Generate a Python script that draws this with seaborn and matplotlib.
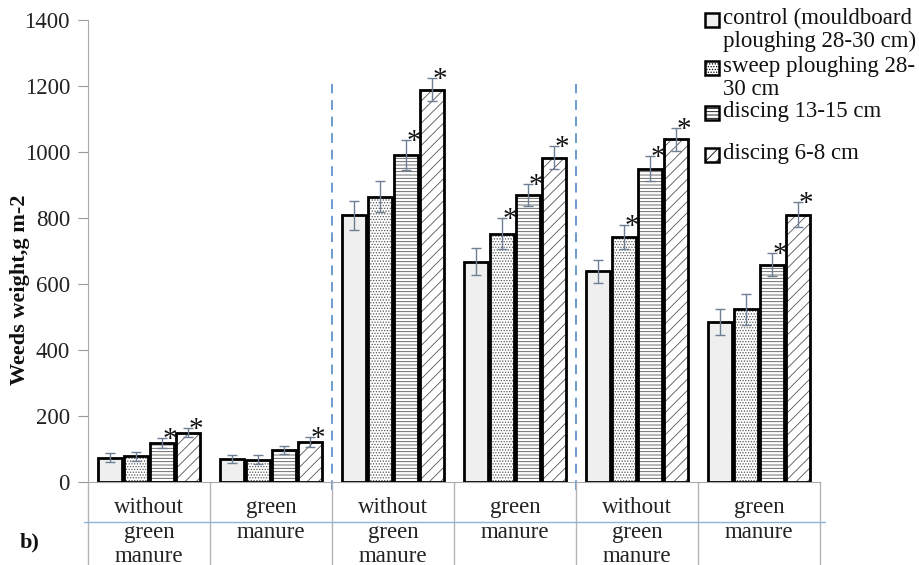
import numpy as np
import pandas as pd
import matplotlib
matplotlib.use("Agg")
import matplotlib.pyplot as plt
from matplotlib.patches import Rectangle
import seaborn as sns

# data
groups = ["G1", "G2", "G3", "G4", "G5", "G6"]
group_labels = ["without\ngreen\nmanure", "green\nmanure"] * 3
treatments = ["control (mouldboard\nploughing 28-30 cm)", "sweep ploughing 28-\n30 cm",
              "discing 13-15 cm", "discing 6-8 cm"]
control = [74, 70, 808, 667, 639, 485]
sweep = [78, 68, 865, 753, 742, 523]
disc13 = [118, 98, 990, 869, 950, 659]
disc6 = [150, 121, 1189, 982, 1038, 810]
err_control = [14, 13, 45, 41, 35, 40]
err_sweep = [14, 13, 46, 46, 36, 48]
err_disc13 = [14, 12, 45, 33, 37, 35]
err_disc6 = [15, 14, 34, 35, 35, 38]
# significance stars (1 = star)
star_control = [0, 0, 0, 0, 0, 0]
star_sweep = [0, 0, 0, 1, 1, 0]
star_disc13 = [1, 0, 1, 1, 1, 1]
star_disc6 = [1, 1, 1, 1, 1, 1]
y_ticks = [0, 200, 400, 600, 800, 1000, 1200, 1400]

values = [control, sweep, disc13, disc6]
errors = [err_control, err_sweep, err_disc13, err_disc6]
stars = [star_control, star_sweep, star_disc13, star_disc6]

df = pd.DataFrame({
    "group": groups * 4,
    "treatment": np.repeat(treatments, len(groups)),
    "value": control + sweep + disc13 + disc6,
})

sns.set_style("white")
plt.rcParams['font.family'] = ['Liberation Serif', 'DejaVu Serif']
plt.rcParams['hatch.linewidth'] = 0.6

faces = ["#efefef", "white", "white", "white"]
hatches = [None, "......", "-----", "///"]
hatch_col = "#555555"

fig = plt.figure(figsize=(9.19, 5.65), dpi=100)
ax = fig.add_axes([88/919, 1-482/565, (820-88)/919, (482-20)/565])

sns.barplot(data=df, x="group", y="value", hue="treatment", order=groups,
            hue_order=treatments, palette=faces, width=0.85, gap=0.1,
            errorbar=None, legend=False, ax=ax)

bar_conts = list(ax.containers)
for i, cont in enumerate(bar_conts):
    xs, hs = [], []
    for p in cont.patches:
        p.set_edgecolor(hatch_col)
        p.set_linewidth(0)
        if hatches[i]:
            p.set_hatch(hatches[i])
        ax.add_patch(Rectangle((p.get_x(), 0), p.get_width(), p.get_height(),
                               fill=False, edgecolor="black", linewidth=2.0, zorder=3))
        xs.append(p.get_x() + p.get_width()/2)
        hs.append(p.get_height())
    ax.errorbar(xs, hs, yerr=errors[i], fmt="none", ecolor="#6f7f93",
                elinewidth=1.0, capsize=3.5, capthick=1.0, zorder=4)
    for x, h, e, s in zip(xs, hs, errors[i], stars[i]):
        if s:
            ax.annotate("*", (x, h + e), xytext=(8, -9), textcoords="offset pixels",
                        ha="center", va="baseline", fontsize=21, color="#111111", zorder=5)

ax.set_xlim(-0.5, 5.5)
ax.set_ylim(0, 1400)
ax.set_yticks(y_ticks)
ax.set_xticks([])
ax.set_xlabel("")
ax.set_ylabel("")
ax.tick_params(axis="y", labelsize=16.5, length=7, color="#999999", pad=6,
               direction="out", left=True, labelcolor="#222222")
for side in ["top", "right"]:
    ax.spines[side].set_visible(False)
ax.spines["left"].set_color("#aaaaaa")
ax.spines["bottom"].set_color("#aaaaaa")

# dashed separators
for xv in [1.5, 3.5]:
    ax.plot([xv, xv], [-25, 1207], ls=(0, (5, 3.5)), color="#6b9bd0", lw=1.4,
            clip_on=False, zorder=2)

# category table below the axis
tr = ax.get_xaxis_transform()
for xv in np.arange(-0.5, 6.0, 1.0):
    ax.plot([xv, xv], [0, -0.19], color="#b5b5b5", lw=1.0, transform=tr, clip_on=False)
ax.plot([-0.53, 5.54], [-0.087, -0.087], color="#8db4db", lw=1.0, transform=tr, clip_on=False)
for j, lab in enumerate(group_labels):
    ax.text(j, -0.033, lab, transform=tr, ha="center", va="top", fontsize=16.5,
            linespacing=1.22, color="#222222")

fig.text(20/919, 1-290/565, "Weeds weight,g m-2", rotation=90, ha="center", va="center",
         fontsize=16, fontweight="bold", color="#111111")
fig.text(20/919, 1-542/565, "b)", ha="left", va="center", fontsize=16,
         fontweight="bold", color="#111111")

# legend drawn by hand
leg_y = [20, 68, 113, 155]
for i, (lab, yc) in enumerate(zip(treatments, leg_y)):
    fig.add_artist(Rectangle((705/919, 1-(yc+7)/565), 14/919, 14/565,
                             transform=fig.transFigure, facecolor=faces[i],
                             hatch=hatches[i], edgecolor="black", linewidth=1.8))
    fig.text(723/919, 1-(yc-12)/565, lab, ha="left", va="top", fontsize=16.5,
             linespacing=1.12, color="#111111")

fig.savefig("out.png", dpi=100)
